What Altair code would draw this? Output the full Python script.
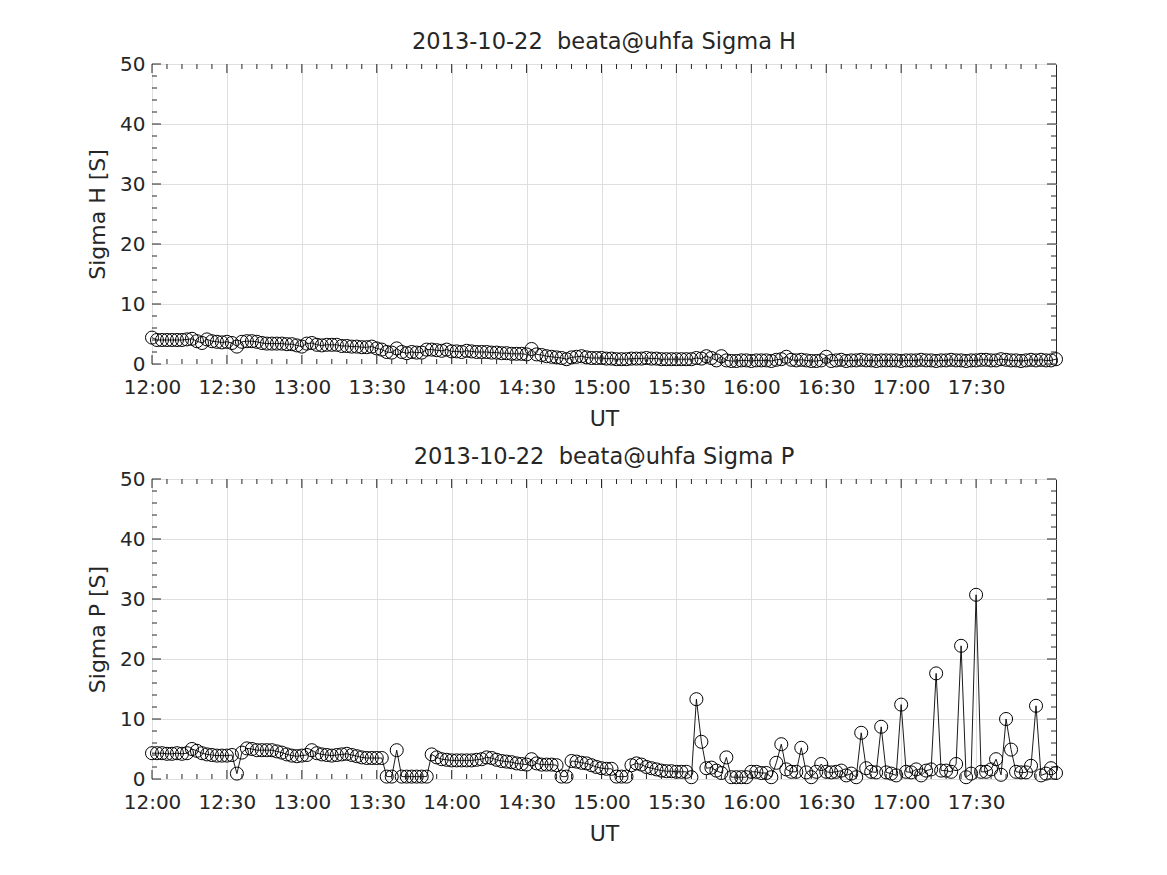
import altair as alt
import pandas as pd

# Sigma H [S], one sample every 2 minutes from 12:00 UT
SIGMA_H = [
    4.4, 4.0, 4.0, 4.0, 4.0, 4.0, 4.0, 4.1, 4.2, 3.8,
    3.5, 4.1, 3.8, 3.7, 3.6, 3.7, 3.5, 2.9, 3.7, 3.8,
    3.8, 3.7, 3.5, 3.4, 3.4, 3.4, 3.4, 3.3, 3.3, 3.1,
    2.9, 3.4, 3.5, 3.2, 3.1, 3.2, 3.2, 3.2, 3.0, 3.0,
    2.9, 2.9, 2.8, 2.8, 2.9, 2.6, 2.4, 2.0, 1.9, 2.6,
    2.0, 1.8, 2.0, 1.9, 1.9, 2.4, 2.4, 2.3, 2.2, 2.4,
    2.1, 2.1, 2.0, 2.2, 2.1, 2.0, 2.0, 2.0, 1.9, 1.9,
    1.8, 1.8, 1.7, 1.7, 1.7, 1.6, 2.5, 1.6, 1.5, 1.3,
    1.2, 1.1, 1.0, 0.8, 1.1, 1.2, 1.3, 1.1, 1.0, 1.0,
    1.0, 0.9, 0.9, 0.8, 0.8, 0.8, 0.9, 0.9, 0.9, 1.0,
    0.9, 0.9, 0.8, 0.8, 0.8, 0.8, 0.8, 0.8, 0.8, 1.0,
    0.9, 1.3, 1.0, 0.6, 1.3, 0.6, 0.5, 0.5, 0.6, 0.6,
    0.5, 0.6, 0.6, 0.6, 0.5, 0.7, 0.8, 1.2, 0.7, 0.6,
    0.7, 0.6, 0.5, 0.5, 0.6, 1.2, 0.5, 0.6, 0.7, 0.5,
    0.6, 0.6, 0.7, 0.6, 0.6, 0.5, 0.6, 0.6, 0.6, 0.6,
    0.5, 0.6, 0.6, 0.6, 0.7, 0.6, 0.6, 0.5, 0.6, 0.6,
    0.7, 0.6, 0.6, 0.5, 0.6, 0.6, 0.7, 0.7, 0.6, 0.6,
    0.8, 0.7, 0.6, 0.6, 0.5, 0.6, 0.7, 0.6, 0.7, 0.6,
    0.6, 0.8,
]

# Sigma P [S], same sampling
SIGMA_P = [
    4.3, 4.3, 4.3, 4.2, 4.2, 4.3, 4.2, 4.3, 5.0, 4.7,
    4.3, 4.1, 4.0, 3.9, 3.9, 3.9, 4.0, 0.9, 4.4, 5.1,
    5.0, 4.8, 4.8, 4.8, 4.8, 4.6, 4.4, 4.1, 3.9, 3.8,
    3.9, 4.0, 4.8, 4.3, 4.1, 4.0, 3.9, 4.0, 4.1, 4.2,
    4.0, 3.8, 3.6, 3.5, 3.5, 3.5, 3.5, 0.4, 0.4, 4.8,
    0.4, 0.4, 0.4, 0.4, 0.4, 0.4, 4.1, 3.6, 3.3, 3.2,
    3.1, 3.1, 3.1, 3.1, 3.1, 3.2, 3.3, 3.6, 3.5, 3.2,
    3.0, 2.9, 2.8, 2.6, 2.5, 2.4, 3.3, 2.6, 2.4, 2.4,
    2.4, 2.3, 0.4, 0.4, 3.0, 2.9, 2.7, 2.6, 2.3, 2.0,
    1.8, 1.7, 1.7, 0.4, 0.4, 0.4, 2.3, 2.6, 2.4, 2.0,
    1.8, 1.6, 1.4, 1.3, 1.3, 1.2, 1.2, 1.2, 0.3, 13.3,
    6.2, 1.8, 1.9, 1.4, 1.0, 3.6, 0.3, 0.3, 0.3, 0.3,
    1.2, 1.2, 1.0, 1.0, 0.3, 2.7, 5.8, 1.6, 1.2, 1.2,
    5.2, 1.1, 0.3, 1.2, 2.5, 1.2, 1.1, 1.2, 1.4, 0.6,
    0.9, 0.3, 7.7, 1.8, 1.2, 1.1, 8.7, 1.1, 0.9, 0.6,
    12.4, 1.2, 1.1, 1.6, 0.6, 1.4, 1.6, 17.6, 1.4, 1.4,
    1.2, 2.5, 22.2, 0.3, 0.9, 30.7, 1.2, 1.2, 1.6, 3.3,
    0.7, 10.0, 4.9, 1.2, 1.1, 1.1, 2.2, 12.2, 0.6, 0.9,
    1.8, 1.0,
]

# minutes after 12:00 UT of each sample
MINUTES = [2 * i for i in range(len(SIGMA_H))]

X_MAJOR = [0, 30, 60, 90, 120, 150, 180, 210, 240, 270, 300, 330]
X_MINOR = [m for m in range(0, 362, 6) if m % 30 != 0]
Y_MAJOR = [0, 10, 20, 30, 40, 50]
Y_MINOR = [v for v in range(0, 51, 2) if v % 10 != 0]

TITLES = ["2013-10-22 \u00a0beata@uhfa Sigma H", "2013-10-22 \u00a0beata@uhfa Sigma P"]
YTITLES = ["Sigma H [S]", "Sigma P [S]"]

W, H = 904, 300
FONT = "DejaVu Sans"
INK = "#262626"
MAJ, MIN = 9, 5

LABEL_EXPR = "(12 + floor(datum.value / 60)) + ':' + (datum.value % 60 == 0 ? '00' : '30')"


def panel(values, title, ytitle):
    df = pd.DataFrame({"t": MINUTES, "v": values})
    xs = alt.Scale(domain=[0, 362], nice=False, zero=False)
    ys = alt.Scale(domain=[0, 50], nice=False)
    x_axis = alt.Axis(values=X_MAJOR, labelExpr=LABEL_EXPR, title="UT", grid=True,
                      ticks=False, tickSize=0, domain=False, labelPadding=13,
                      titlePadding=11, labelFlush=False)
    y_axis = alt.Axis(values=Y_MAJOR, title=ytitle, grid=True, ticks=False, tickSize=0,
                      domain=False, labelPadding=7, titlePadding=10)
    X = alt.X("t:Q", scale=xs, axis=x_axis)
    Y = alt.Y("v:Q", scale=ys, axis=y_axis)

    line = alt.Chart(df).mark_line(color="black", strokeWidth=0.9).encode(x=X, y=Y)
    pts = alt.Chart(df).mark_point(shape="circle", filled=False, color="black",
                                   size=170, strokeWidth=1, opacity=1).encode(x=X, y=Y)

    layers = []
    for arr, ln in ((X_MAJOR, MAJ), (X_MINOR, MIN)):
        d = pd.DataFrame({"t": arr})
        layers.append(alt.Chart(d).mark_rule(color=INK, strokeWidth=1).encode(
            x=X, y=alt.value(H), y2=alt.value(H - ln)))
        layers.append(alt.Chart(d).mark_rule(color=INK, strokeWidth=1).encode(
            x=X, y=alt.value(0), y2=alt.value(ln)))
    for arr, ln in ((Y_MAJOR, MAJ), (Y_MINOR, MIN)):
        d = pd.DataFrame({"v": arr})
        layers.append(alt.Chart(d).mark_rule(color=INK, strokeWidth=1).encode(
            y=Y, x=alt.value(0), x2=alt.value(ln)))
        layers.append(alt.Chart(d).mark_rule(color=INK, strokeWidth=1).encode(
            y=Y, x=alt.value(W), x2=alt.value(W - ln)))

    return alt.layer(line, pts, *layers).properties(
        width=W, height=H,
        title=alt.TitleParams(title, fontSize=22.5, fontWeight="normal", font=FONT,
                              color=INK, offset=1),
    )


top = panel(SIGMA_H, TITLES[0], YTITLES[0])
bottom = panel(SIGMA_P, TITLES[1], YTITLES[1])

chart = alt.VConcatChart(vconcat=[top, bottom], spacing=115, bounds="flush").properties(
    padding={"left": 78, "top": 22, "right": 5, "bottom": 5},
).configure(background="white").configure_view(
    stroke=INK, strokeWidth=1
).configure_axis(
    labelFont=FONT, titleFont=FONT, labelFontSize=20, titleFontSize=22,
    labelColor=INK, titleColor=INK, titleFontWeight="normal",
    gridColor="#dfdfdf", gridWidth=1,
)

chart.save("out.html", embed_options={"renderer": "svg", "actions": False})
